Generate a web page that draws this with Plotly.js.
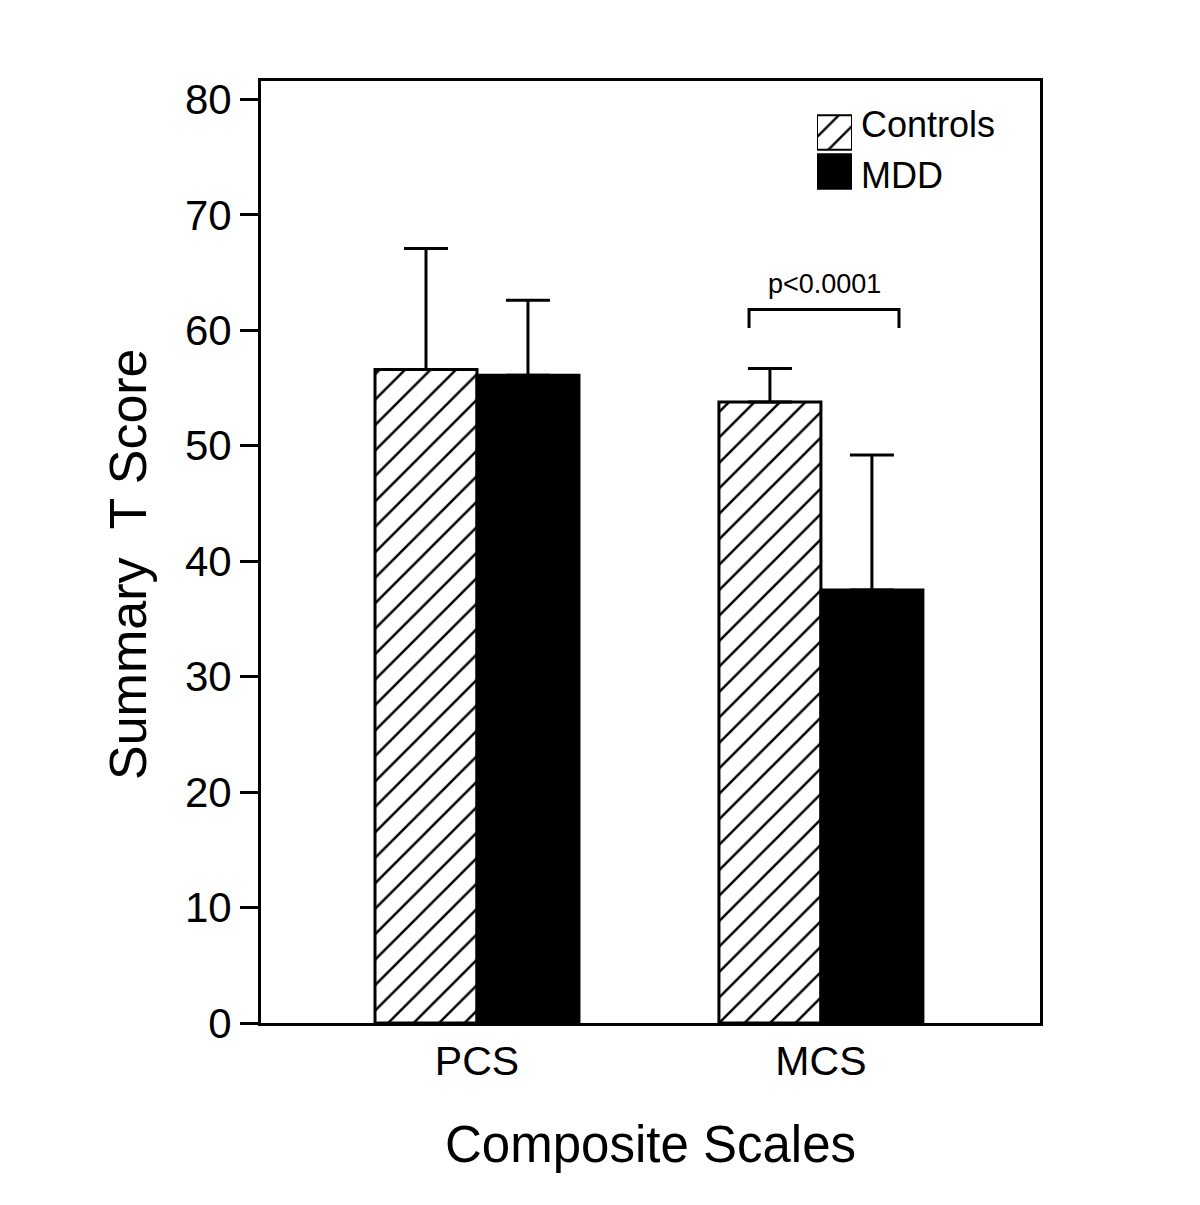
<!DOCTYPE html>
<html>
<head>
<meta charset="utf-8">
<script src="https://cdn.plot.ly/plotly-3.0.1.min.js"></script>
<style>html,body{margin:0;padding:0;background:#fff;}#chart{width:1200px;height:1205px;}</style>
</head>
<body>
<div id="chart"></div>
<script>
// ---- data ----
const categories = ['PCS', 'MCS'];
const seriesNames = ['Controls', 'MDD'];
const controlsMean = [56.6, 53.8];
const controlsErr = [10.5, 2.9];
const mddMean = [56.1, 37.5];
const mddErr = [6.5, 11.7];
const yTickVals = [0, 10, 20, 30, 40, 50, 60, 70, 80];
const pValueText = 'p<0.0001';
const yTitle = 'Summary  T Score';
const xTitle = 'Composite Scales';

const FONT = 'Liberation Sans, Arial, Helvetica, sans-serif';
const hatch = {shape: '/', fgcolor: '#000', bgcolor: '#fff', size: 18, solidity: 0.14, fillmode: 'replace'};

const traces = [
  {
    type: 'bar', name: seriesNames[0], x: categories, y: controlsMean,
    marker: {color: '#fff', pattern: hatch, line: {color: '#000', width: 3}},
    error_y: {type: 'data', symmetric: false, array: controlsErr, arrayminus: [0, 0], color: '#000', thickness: 3, width: 22},
    showlegend: false, hoverinfo: 'skip'
  },
  {
    type: 'bar', name: seriesNames[1], x: categories, y: mddMean,
    marker: {color: '#000', line: {color: '#000', width: 3}},
    error_y: {type: 'data', symmetric: false, array: mddErr, arrayminus: [0, 0], color: '#000', thickness: 3, width: 22},
    showlegend: false, hoverinfo: 'skip'
  },
  // legend swatches (drawn on a small inset axis)
  {
    type: 'bar', orientation: 'h', y: [1], x: [1], width: [0.89],
    xaxis: 'x2', yaxis: 'y2',
    marker: {color: '#fff', pattern: {shape: '/', fgcolor: '#000', bgcolor: '#fff', size: 17, solidity: 0.14, fillmode: 'replace'}, line: {color: '#000', width: 2}},
    showlegend: false, hoverinfo: 'skip'
  },
  {
    type: 'bar', orientation: 'h', y: [0], x: [1], width: [0.89],
    xaxis: 'x2', yaxis: 'y2',
    marker: {color: '#000', line: {color: '#000', width: 2}},
    showlegend: false, hoverinfo: 'skip'
  }
];

const L = 261, R = 1040, T = 81, B = 1023;
const W = 1200, H = 1205;
const px2fx = v => (v - L) / (R - L);
const py2fy = v => (B - v) / (B - T);

const layout = {
  width: W, height: H,
  margin: {l: L, r: W - R, t: T, b: H - B, pad: 0},
  paper_bgcolor: '#fff', plot_bgcolor: '#fff',
  font: {family: FONT, color: '#000'},
  barmode: 'group', bargap: 0.407, bargroupgap: 0,
  showlegend: false,
  xaxis: {
    type: 'category', range: [-0.628, 1.637],
    showline: true, linecolor: '#000', linewidth: 3, mirror: true,
    ticks: '', showgrid: false, zeroline: false,
    tickfont: {size: 41, family: FONT}, ticklabelstandoff: 0,
    title: {text: xTitle, font: {size: 51, family: FONT}, standoff: 44}
  },
  yaxis: {
    range: [0, 81.6], tickvals: yTickVals,
    showline: true, linecolor: '#000', linewidth: 3, mirror: true,
    ticks: 'outside', ticklen: 18, tickwidth: 3, tickcolor: '#000',
    showgrid: false, zeroline: false,
    tickfont: {size: 42, family: FONT}
  },
  xaxis2: {domain: [px2fx(817), px2fx(852)], range: [0, 1], anchor: 'y2', visible: false, fixedrange: true},
  yaxis2: {domain: [py2fy(191), py2fy(113)], range: [-0.5, 1.5], anchor: 'x2', visible: false, fixedrange: true},
  shapes: [
    {type: 'path', xref: 'x', yref: 'y',
     path: 'M 0.791 60.2 L 0.791 61.8 L 1.227 61.8 L 1.227 60.2',
     line: {color: '#000', width: 3}}
  ],
  annotations: [
    {xref: 'paper', yref: 'paper', x: px2fx(128), y: py2fy(564), text: yTitle, textangle: -90, showarrow: false,
     font: {size: 52, family: FONT}, xanchor: 'center', yanchor: 'middle'},
    {xref: 'x', yref: 'y', x: 1.01, y: 64.0, text: pValueText, showarrow: false,
     font: {size: 27, family: FONT}, xanchor: 'center', yanchor: 'middle'},
    {xref: 'paper', yref: 'paper', x: px2fx(859), y: py2fy(124), text: seriesNames[0], showarrow: false,
     font: {size: 36, family: FONT}, xanchor: 'left', yanchor: 'middle'},
    {xref: 'paper', yref: 'paper', x: px2fx(859), y: py2fy(175), text: seriesNames[1], showarrow: false,
     font: {size: 36, family: FONT}, xanchor: 'left', yanchor: 'middle'}
  ]
};

Plotly.newPlot('chart', traces, layout, {staticPlot: true, displayModeBar: false});
</script>
</body>
</html>
